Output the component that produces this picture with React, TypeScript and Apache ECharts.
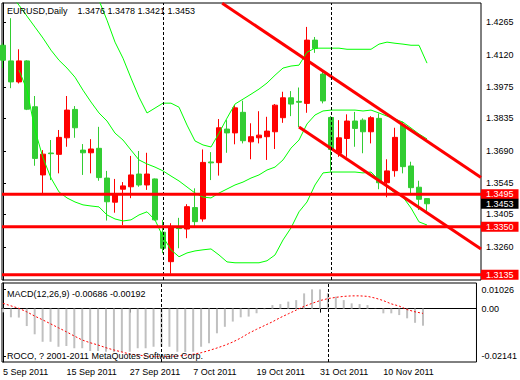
import React, { useEffect, useRef } from 'react';
import * as echarts from 'echarts';

const tickIndex = [0, 8, 16, 24, 32, 40, 48];
const tickLabels = ['5 Sep 2011', '15 Sep 2011', '27 Sep 2011', '7 Oct 2011', '19 Oct 2011', '31 Oct 2011', '10 Nov 2011'];

const opens = [1.4162, 1.4092, 1.3998, 1.4092, 1.3887, 1.3582, 1.3680, 1.3674, 1.3748, 1.3875,
  1.3693, 1.3681, 1.3701, 1.3568, 1.3460, 1.3518, 1.3529, 1.3586, 1.3537, 1.3564,
  1.3326, 1.3194, 1.3345, 1.3340, 1.3436, 1.3385, 1.3640, 1.3637, 1.3787, 1.3770,
  1.3862, 1.3730, 1.3748, 1.3753, 1.3775, 1.3838, 1.3927, 1.3911, 1.3902, 1.4185,
  1.4033, 1.3839, 1.3679, 1.3745, 1.3823, 1.3827, 1.3775, 1.3835, 1.3547, 1.3601,
  1.3805, 1.3622, 1.3527, 1.3476];
const highs = [1.4171, 1.4283, 1.4144, 1.4095, 1.3935, 1.3693, 1.3738, 1.3783, 1.3935, 1.3890,
  1.3720, 1.3742, 1.3797, 1.3600, 1.3564, 1.3550, 1.3667, 1.3689, 1.3681, 1.3566,
  1.3381, 1.3366, 1.3390, 1.3451, 1.3522, 1.3696, 1.3684, 1.3832, 1.3827, 1.3894,
  1.3914, 1.3813, 1.3867, 1.3842, 1.3899, 1.3954, 1.3957, 1.3973, 1.4244, 1.4199,
  1.4051, 1.3845, 1.3827, 1.3853, 1.3864, 1.3835, 1.3845, 1.3857, 1.3652, 1.3793,
  1.3820, 1.3641, 1.3556, 1.3478];
const lows = [1.4060, 1.3970, 1.3991, 1.3872, 1.3623, 1.3492, 1.3559, 1.3589, 1.3708, 1.3748,
  1.3582, 1.3589, 1.3556, 1.3378, 1.3413, 1.3358, 1.3478, 1.3529, 1.3515, 1.3378,
  1.3232, 1.3140, 1.3254, 1.3299, 1.3351, 1.3373, 1.3559, 1.3579, 1.3681, 1.3719,
  1.3723, 1.3652, 1.3723, 1.3649, 1.3698, 1.3815, 1.3845, 1.3796, 1.3860, 1.4128,
  1.3902, 1.3596, 1.3663, 1.3663, 1.3708, 1.3679, 1.3723, 1.3518, 1.3482, 1.3574,
  1.3589, 1.3492, 1.3425, 1.3421];
const closes = [1.4095, 1.3998, 1.4092, 1.3876, 1.3656, 1.3675, 1.3677, 1.3750, 1.3872, 1.3793,
  1.3681, 1.3698, 1.3570, 1.3462, 1.3492, 1.3533, 1.3582, 1.3537, 1.3586, 1.3381,
  1.3254, 1.3351, 1.3342, 1.3440, 1.3373, 1.3638, 1.3636, 1.3793, 1.3770, 1.3882,
  1.3735, 1.3753, 1.3760, 1.3778, 1.3894, 1.3927, 1.3899, 1.3907, 1.4185, 1.4148,
  1.3913, 1.3696, 1.3748, 1.3823, 1.3790, 1.3775, 1.3838, 1.3547, 1.3600, 1.3750,
  1.3619, 1.3525, 1.3473, 1.3453];

const bbUpper = [null, null, null, null, null, null, null, null, null, null,
  null, 1.4470, 1.4363, 1.4274, 1.4176, 1.4104, 1.4015, 1.3930, 1.3859, 1.3881,
  1.3903, 1.3903, 1.3885, 1.3805, 1.3734, 1.3716, 1.3707, 1.3769, 1.3836, 1.3899,
  1.3921, 1.3943, 1.3966, 1.3993, 1.4028, 1.4060, 1.4069, 1.4073, 1.4131, 1.4149,
  1.4149, 1.4149, 1.4149, 1.4144, 1.4144, 1.4144, 1.4144, 1.4167, 1.4176, 1.4171,
  1.4167, 1.4162, 1.4162, 1.4082];
const bbMiddle = [1.4430, 1.4386, 1.4341, 1.4292, 1.4243, 1.4194, 1.4140, 1.4095, 1.4060, 1.4019,
  1.3961, 1.3908, 1.3859, 1.3823, 1.3769, 1.3738, 1.3693, 1.3649, 1.3631, 1.3617,
  1.3600, 1.3577, 1.3555, 1.3528, 1.3501, 1.3483, 1.3479, 1.3501, 1.3519, 1.3537,
  1.3550, 1.3568, 1.3582, 1.3604, 1.3617, 1.3649, 1.3702, 1.3738, 1.3810, 1.3850,
  1.3868, 1.3872, 1.3872, 1.3872, 1.3872, 1.3868, 1.3872, 1.3859, 1.3845, 1.3832,
  1.3818, 1.3792, 1.3765, 1.3743];
const bbLower = [null, null, 1.4051, 1.3961, 1.3783, 1.3658, 1.3568, 1.3506, 1.3479, 1.3461,
  1.3448, 1.3443, 1.3439, 1.3403, 1.3385, 1.3376, 1.3381, 1.3403, 1.3417, 1.3381,
  1.3305, 1.3247, 1.3216, 1.3233, 1.3242, 1.3247, 1.3251, 1.3224, 1.3193, 1.3189,
  1.3189, 1.3189, 1.3189, 1.3198, 1.3224, 1.3291, 1.3345, 1.3417, 1.3461, 1.3537,
  1.3591, 1.3595, 1.3595, 1.3595, 1.3595, 1.3591, 1.3595, 1.3559, 1.3528, 1.3501,
  1.3483, 1.3434, 1.3372, 1.3358];

const macdMain = [-0.0015, -0.0035, -0.0036, -0.0070, -0.0103, -0.0133, -0.0133, -0.0153, -0.0150, -0.0159,
  -0.0159, -0.0170, -0.0170, -0.0173, -0.0174, -0.0174, -0.0173, -0.0159, -0.0159, -0.0153,
  -0.0153, -0.0153, -0.0173, -0.0174, -0.0173, -0.0153, -0.0139, -0.0099, -0.0073, -0.0052,
  -0.0035, -0.0032, -0.0019, -0.0003, 0.0014, 0.0018, 0.0028, 0.0034, 0.0061, 0.0077,
  0.0077, 0.0062, 0.0048, 0.0034, 0.0021, 0.0018, 0.0014, 0.0001, -0.0019, -0.0019,
  -0.0026, -0.0039, -0.0057, -0.00686];
const macdSignal = [0.0021, 0.0011, 0.0001, -0.0013, -0.0030, -0.0045, -0.0061, -0.0077, -0.0093, -0.0110,
  -0.0126, -0.0137, -0.0146, -0.0157, -0.0166, -0.0174, -0.0182, -0.0186, -0.0190, -0.0192,
  -0.0193, -0.0192, -0.0190, -0.0187, -0.0183, -0.0177, -0.0168, -0.0158, -0.0147, -0.0134,
  -0.0118, -0.0099, -0.0083, -0.0068, -0.0053, -0.0036, -0.0021, -0.0006, 0.0009, 0.0021,
  0.0032, 0.0040, 0.0045, 0.0049, 0.0051, 0.0051, 0.0049, 0.0042, 0.0032, 0.0019,
  0.0010, -0.0004, -0.0013, -0.00192];

const priceTicks = [1.4265, 1.4120, 1.3975, 1.3835, 1.3690, 1.3545, 1.3405, 1.3260];
const levelLines = [1.3495, 1.3350, 1.3135];
const lastPrice = 1.3453;
const separators = [20, 41];
const upperChannel = [[27.4, 1.4350], [59.75, 1.3571]];
const lowerChannel = [[37, 1.3796], [59.75, 1.3251]];
const macdAxisPos = [0.0076, 0, -0.0190];
const macdAxisText = ['0.01026', '0.00', '-0.02141'];

const FONT = '"Liberation Sans", Arial, sans-serif';
const RED = '#FF0000';
const GREEN = '#32CD32';
const LIME = '#00FF00';

function pairs(arr: (number | null)[]) {
  const out: number[][] = [];
  arr.forEach((v, i) => { if (v != null) out.push([i, v]); });
  return out;
}

export default function App() {
  const ref = useRef<HTMLDivElement>(null);
  useEffect(() => {
    if (!ref.current) return;
    const chart = echarts.init(ref.current, undefined, { renderer: 'svg' });
    const last = opens.length - 1;
    const xBase = { type: 'value', min: -0.125, max: 59.75 };
    const levelSeries = (v: number, bg: string, lineColor: string, width: number) => ({
      type: 'line', xAxisIndex: 0, yAxisIndex: 0, z: 5, symbol: 'none', showSymbol: false,
      data: [[-0.125, v], [59.75, v]],
      lineStyle: { color: lineColor, width },
      endLabel: {
        show: true, distance: 0,
        formatter: () => v.toFixed(4),
        backgroundColor: bg, color: '#fff', padding: [1, 5, 0, 5],
        fontSize: 9, fontFamily: FONT, lineHeight: 9,
      },
    });
    const sepLine = {
      silent: true, symbol: ['none', 'none'],
      data: separators.map((v) => ({ xAxis: v, lineStyle: { color: '#000', width: 1, type: [3, 2] }, label: { show: false } })),
    };
    const option: any = {
      animation: false,
      backgroundColor: '#fff',
      grid: [
        { left: 2, right: 39, top: 3, height: 277, show: true, borderColor: '#000', borderWidth: 1, backgroundColor: '#fff' },
        { left: 2, right: 39, top: 283, height: 79, show: true, borderColor: '#000', borderWidth: 1, backgroundColor: '#fff' },
      ],
      xAxis: [
        { ...xBase, gridIndex: 0, axisLine: { show: false }, axisTick: { show: false }, axisLabel: { show: false }, splitLine: { show: false } },
        {
          ...xBase, gridIndex: 1,
          axisLine: { show: true, lineStyle: { color: '#000' } },
          axisTick: { show: true, customValues: tickIndex, length: 4, lineStyle: { color: '#000' } },
          axisLabel: {
            customValues: tickIndex, align: 'left', margin: 5, fontSize: 9, fontFamily: FONT, color: '#000',
            formatter: (v: number) => tickLabels[tickIndex.indexOf(Math.round(v))] || '',
          },
          splitLine: { show: false },
        },
      ],
      yAxis: [
        {
          type: 'value', gridIndex: 0, position: 'right', min: 1.3112, max: 1.4351,
          axisLine: { show: true, lineStyle: { color: '#000' } },
          axisTick: { show: true, customValues: priceTicks, length: 3, lineStyle: { color: '#000' } },
          axisLabel: { customValues: priceTicks, margin: 5, fontSize: 9, fontFamily: FONT, color: '#000', formatter: (v: number) => v.toFixed(4) },
          splitLine: { show: false },
        },
        {
          type: 'value', gridIndex: 1, position: 'right', min: -0.02141, max: 0.01026,
          axisLine: { show: true, lineStyle: { color: '#000' } },
          axisTick: { show: true, customValues: macdAxisPos, length: 3, lineStyle: { color: '#000' } },
          axisLabel: {
            customValues: macdAxisPos, margin: 5, fontSize: 9, fontFamily: FONT, color: '#000',
            formatter: (v: number) => {
              let best = 0;
              macdAxisPos.forEach((p, k) => { if (Math.abs(p - v) < Math.abs(macdAxisPos[best] - v)) best = k; });
              return macdAxisText[best];
            },
          },
          splitLine: { show: false },
        },
      ],
      series: [
        {
          type: 'candlestick', xAxisIndex: 0, yAxisIndex: 0, z: 2,
          data: opens.map((o, i) => [i, o, closes[i], lows[i], highs[i]]),
          encode: { x: 0, y: [1, 2, 3, 4] },
          barWidth: 5,
          itemStyle: { color: RED, color0: GREEN, borderColor: RED, borderColor0: GREEN, borderWidth: 1 },
          markLine: sepLine,
        },
        ...[bbUpper, bbMiddle, bbLower].map((arr) => ({
          type: 'line', xAxisIndex: 0, yAxisIndex: 0, z: 3, showSymbol: false, symbol: 'none',
          data: pairs(arr), lineStyle: { color: LIME, width: 1 },
        })),
        ...[upperChannel, lowerChannel].map((arr) => ({
          type: 'line', xAxisIndex: 0, yAxisIndex: 0, z: 4, showSymbol: false, symbol: 'none',
          data: arr, lineStyle: { color: RED, width: 3 },
        })),
        ...levelLines.map((v) => levelSeries(v, RED, RED, 3)),
        levelSeries(lastPrice, '#000', 'rgba(0,0,0,0)', 0),
        {
          type: 'bar', xAxisIndex: 1, yAxisIndex: 1, barWidth: 2,
          data: macdMain.map((v, i) => [i, v]),
          itemStyle: { color: '#C0C0C0' },
          markLine: sepLine,
        },
        {
          type: 'line', xAxisIndex: 1, yAxisIndex: 1, showSymbol: false, symbol: 'none',
          data: macdSignal.map((v, i) => [i, v]),
          lineStyle: { color: RED, width: 1, type: [2, 2] },
        },
      ],
      graphic: [
        { type: 'text', x: 7, y: 11, z: 10, style: { text: 'EURUSD,Daily', fill: '#000', fontSize: 9, fontFamily: FONT, verticalAlign: 'middle' } },
        {
          type: 'text', x: 77.5, y: 11, z: 10,
          style: { text: [opens[last], highs[last], lows[last], closes[last]].map((v) => v.toFixed(4)).join(' '), fill: '#000', fontSize: 9, fontFamily: FONT, verticalAlign: 'middle' },
        },
        {
          type: 'text', x: 7, y: 294, z: 10,
          style: { text: `MACD(12,26,9) ${macdMain[last].toFixed(5)} ${macdSignal[last].toFixed(5)}`, fill: '#000', fontSize: 9, fontFamily: FONT, verticalAlign: 'middle' },
        },
        {
          type: 'text', x: 7, y: 356, z: 10,
          style: { text: 'ROCO, ? 2001-2011 MetaQuotes Software Corp.', fill: '#000', fontSize: 9, fontFamily: FONT, verticalAlign: 'middle' },
        },
      ],
    };
    chart.setOption(option);
    return () => chart.dispose();
  }, []);
  return <div ref={ref} style={{ position: 'fixed', left: 0, top: 0, width: 520, height: 380 }} />;
}
